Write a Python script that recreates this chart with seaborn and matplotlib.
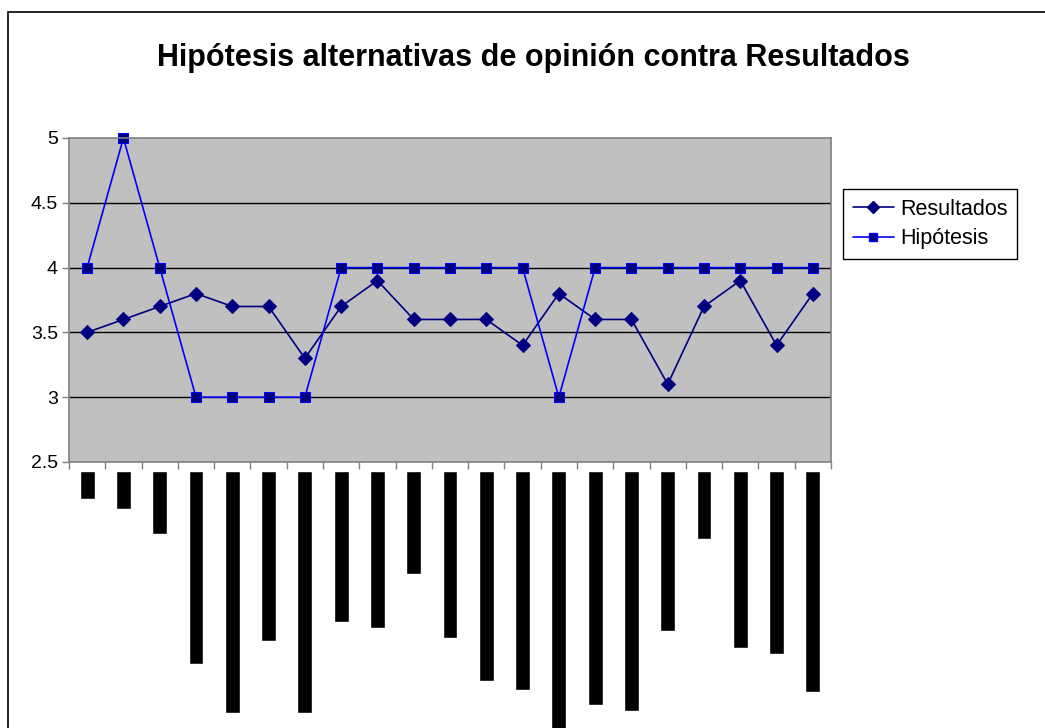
import pandas as pd
import seaborn as sns
import matplotlib.pyplot as plt
from matplotlib.patches import Rectangle
from matplotlib.lines import Line2D

# values (21 categories)
resultados = [3.5, 3.6, 3.7, 3.8, 3.7, 3.7, 3.3, 3.7, 3.9, 3.6, 3.6,
              3.6, 3.4, 3.8, 3.6, 3.6, 3.1, 3.7, 3.9, 3.4, 3.8]
hipotesis = [4, 5, 4, 3, 3, 3, 3, 4, 4, 4, 4,
             4, 4, 3, 4, 4, 4, 4, 4, 4, 4]
# the category labels render as black blocks below the axis; their lengths
label_len = [28, 38, 63, 193, 242, 170, 242, 151, 157, 103, 167,
             210, 219, 270, 234, 240, 160, 68, 177, 183, 221]
categories = list(range(len(resultados)))

df = pd.DataFrame({'cat': categories, 'Resultados': resultados,
                   'Hipótesis': hipotesis, 'label_len': label_len})

sns.set_style("white")
plt.rcParams['font.family'] = ['Liberation Sans', 'DejaVu Sans']
plt.rcParams['text.color'] = 'black'
plt.rcParams['ytick.labelcolor'] = 'black'

W, H = 1045, 728
fig = plt.figure(figsize=(W / 100, H / 100), dpi=100)

# outer chart border (cut off at right and bottom)
fig.patches.append(Rectangle((8 / W, -0.1), 1.2, 1.1 - 12 / H, transform=fig.transFigure,
                             fill=False, edgecolor='black', linewidth=1.2))

x0, x1 = 69, 831
y0, y1 = 138, 462
ax = fig.add_axes([x0 / W, 1 - y1 / H, (x1 - x0) / W, (y1 - y0) / H])
ax.set_facecolor('#C0C0C0')

sns.lineplot(ax=ax, data=df, x='cat', y='Resultados', color='#000080', lw=1.2,
             marker='D', markersize=7, markeredgecolor='#000080', label='Resultados',
             clip_on=False)
sns.lineplot(ax=ax, data=df, x='cat', y='Hipótesis', color='#0000FF', lw=1.2,
             marker='s', markersize=7, markerfacecolor='#000080',
             markeredgecolor='#0000FF', label='Hipótesis', clip_on=False)

ax.set_xlim(-0.5, len(categories) - 0.5)
ax.set_ylim(2.5, 5)
ax.set_yticks([2.5, 3, 3.5, 4, 4.5, 5])
ax.set_yticklabels(['2.5', '3', '3.5', '4', '4.5', '5'])
ax.set_xticks([c - 0.5 for c in categories] + [len(categories) - 0.5])
ax.set_xticklabels([])
for yv in [3, 3.5, 4, 4.5]:
    ax.axhline(yv, color='black', lw=1, zorder=0.5)
ax.tick_params(axis='y', direction='out', length=5, width=1, color='#808080',
               labelsize=14, pad=3, left=True)
ax.tick_params(axis='x', direction='out', length=5, width=1, color='#808080', bottom=True)
for s in ax.spines.values():
    s.set_color('#808080')
    s.set_linewidth(1.2)
ax.set_xlabel('')
ax.set_ylabel('')

leg_handles = [
    Line2D([], [], color='#000080', lw=1.2, marker='D', markersize=6),
    Line2D([], [], color='#0000FF', lw=1.2, marker='s', markersize=6,
           markerfacecolor='#000080', markeredgecolor='#0000FF'),
]
leg = fig.legend(leg_handles, ['Resultados', 'Hipótesis'], loc='upper left',
                 bbox_to_anchor=(843 / W, 1 - 189 / H), fontsize=15.5,
                 frameon=True, fancybox=False, framealpha=1, edgecolor='black',
                 handlelength=1.9, handletextpad=0.3, borderpad=0.45,
                 labelspacing=0.4, borderaxespad=0)
leg.get_frame().set_linewidth(1)
ax.get_legend().remove()

# black blocks that stand in for the unreadable category labels
bx = fig.add_axes([x0 / W, 0, (x1 - x0) / W, (H - 471) / H])
bx.patch.set_alpha(0)
sns.barplot(ax=bx, data=df, x='cat', y='label_len', color='black',
            width=0.41, saturation=1)
bx.set_xlim(-0.5, len(categories) - 0.5)
bx.set_ylim(H - 471, 0)
bx.axis('off')

fig.text(533 / W, 1 - 58 / H, 'Hipótesis alternativas de opinión contra Resultados',
         ha='center', va='center', fontsize=22, fontweight='bold')

plt.savefig('out.png', dpi=100)
